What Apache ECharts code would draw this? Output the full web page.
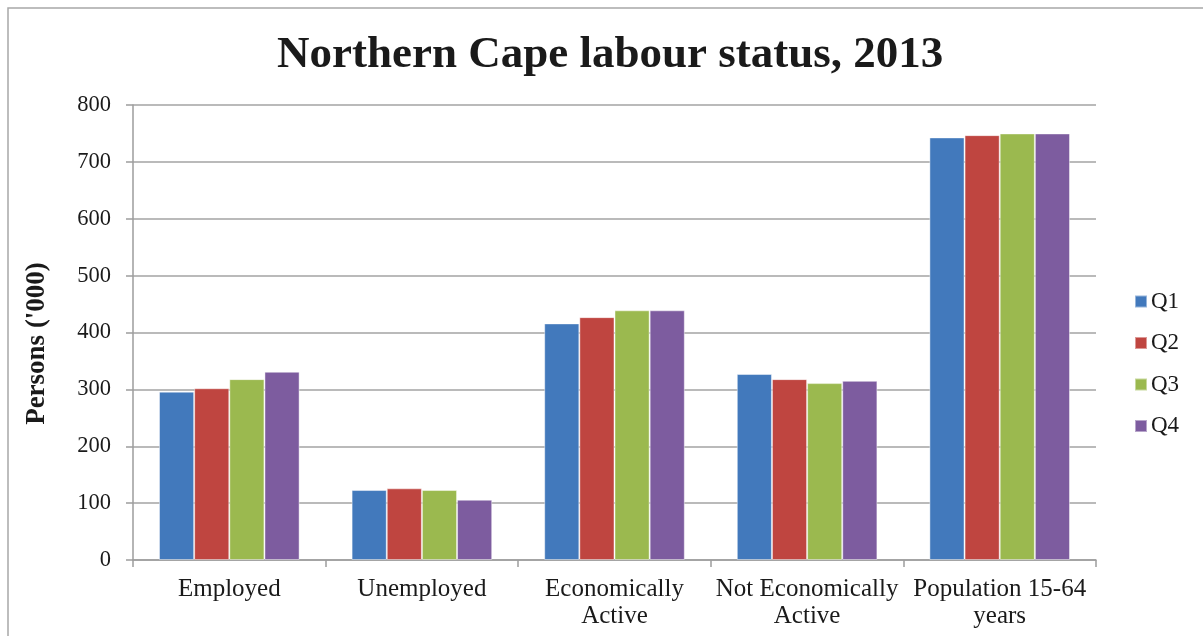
<!DOCTYPE html>
<html>
<head>
<meta charset="utf-8">
<title>Northern Cape labour status, 2013</title>
<script src="https://cdn.jsdelivr.net/npm/echarts@6/dist/echarts.min.js"></script>
<style>
  html, body { margin: 0; padding: 0; background: #ffffff; }
  #chart { width: 1203px; height: 636px; }
</style>
</head>
<body>
<div id="chart"></div>
<script>
// Labour status categories and quarterly values (persons, thousands)
const categories = ['Employed', 'Unemployed', 'Economically\nActive', 'Not Economically\nActive', 'Population 15-64\nyears'];
const quarters = ['Q1', 'Q2', 'Q3', 'Q4'];
const q1 = [296, 123, 416, 327, 743];
const q2 = [302, 126, 427, 318, 747];
const q3 = [318, 123, 439, 311, 750];
const q4 = [331, 106, 439, 315, 750];
const yTicks = { min: 0, max: 800, step: 100 };

const colors = ['#4279BC', '#BF4540', '#9BB94F', '#7D5C9F'];
const seriesValues = [q1, q2, q3, q4];
const serif = '"Liberation Serif", "DejaVu Serif", serif';

const chart = echarts.init(document.getElementById('chart'), null, { renderer: 'canvas' });

chart.setOption({
  backgroundColor: '#ffffff',
  animation: false,
  color: colors,
  title: {
    text: 'Northern Cape labour status, 2013',
    left: 272,
    top: 28,
    padding: 5,
    textStyle: { fontFamily: serif, fontWeight: 'bold', fontSize: 45, color: '#1a1a1a' }
  },
  graphic: [{
    type: 'rect',
    shape: { x: 8, y: 8, width: 1300, height: 700 },
    style: { fill: 'none', stroke: '#a8a8a8', lineWidth: 1.5 },
    silent: true,
    z: -1
  }],
  legend: {
    orient: 'vertical',
    left: 1129,
    top: 285,
    itemWidth: 12,
    itemHeight: 12,
    itemGap: 18.5,
    icon: 'rect',
    textStyle: { fontFamily: serif, fontSize: 23, color: '#1a1a1a', padding: [0, 0, 0, -1] },
    data: quarters
  },
  grid: { left: 133, right: 107, top: 105, bottom: 76, containLabel: false },
  xAxis: {
    type: 'category',
    data: categories,
    boundaryGap: true,
    axisLine: { lineStyle: { color: '#9d9d9d', width: 1.5 } },
    axisTick: { show: true, length: 7, lineStyle: { color: '#9d9d9d', width: 1.5 } },
    axisLabel: {
      interval: 0,
      margin: 16,
      fontFamily: serif,
      fontSize: 25,
      lineHeight: 27,
      color: '#1a1a1a'
    }
  },
  yAxis: {
    type: 'value',
    min: yTicks.min,
    max: yTicks.max,
    interval: yTicks.step,
    name: "Persons ('000)",
    nameLocation: 'middle',
    nameRotate: 90,
    nameGap: 82,
    nameTextStyle: { fontFamily: serif, fontWeight: 'bold', fontSize: 27, color: '#1a1a1a', padding: [0, 22, 0, 0] },
    axisLine: { show: true, lineStyle: { color: '#9d9d9d', width: 1.5 } },
    axisTick: { show: true, length: 7, lineStyle: { color: '#9d9d9d', width: 1.5 } },
    axisLabel: { margin: 22, fontFamily: serif, fontSize: 22.5, color: '#1a1a1a' },
    splitLine: { show: true, lineStyle: { color: '#a3a3a3', width: 1.5 } }
  },
  series: quarters.map((q, i) => ({
    name: q,
    type: 'bar',
    data: seriesValues[i],
    barGap: '0%',
    barCategoryGap: '27%',
    itemStyle: { color: colors[i], borderColor: 'rgba(255,255,255,0.45)', borderWidth: 1 }
  }))
});
</script>
</body>
</html>
